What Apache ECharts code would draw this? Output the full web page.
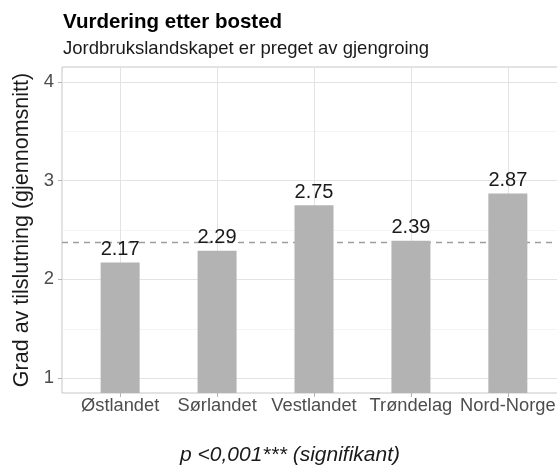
<!DOCTYPE html>
<html>
<head>
<meta charset="utf-8">
<script src="https://cdn.jsdelivr.net/npm/echarts@6/dist/echarts.min.js"></script>
<style>html,body{margin:0;padding:0;background:#fff}#c{width:557px;height:472px}</style>
</head>
<body>
<div id="c"></div>
<script>
const categories = ['Østlandet', 'Sørlandet', 'Vestlandet', 'Trøndelag', 'Nord-Norge'];
const values = [2.17, 2.29, 2.75, 2.39, 2.87];
const meanValue = 2.38;
const yTicks = [1, 2, 3, 4];
const yMinor = [1.5, 2.5, 3.5];
const titleText = 'Vurdering etter bosted';
const subtitleText = 'Jordbrukslandskapet er preget av gjengroing';
const yAxisTitle = 'Grad av tilslutning (gjennomsnitt)';
const captionText = 'p <0,001*** (signifikant)';

const FONT = '"Liberation Sans", Arial, sans-serif';
const xPos = categories.map((c, i) => i + 1);

const gridLines = [];
yTicks.forEach(v => gridLines.push({yAxis: v, lineStyle: {color: '#e3e3e3', width: 1, type: 'solid'}}));
yMinor.forEach(v => gridLines.push({yAxis: v, lineStyle: {color: '#f1f1f1', width: 0.8, type: 'solid'}}));
xPos.forEach(v => gridLines.push({xAxis: v, lineStyle: {color: '#e3e3e3', width: 1, type: 'solid'}}));
gridLines.push({yAxis: meanValue, lineStyle: {color: '#9e9e9e', width: 1.4, type: [6, 5]}});

const chart = echarts.init(document.getElementById('c'), null, {renderer: 'canvas'});
chart.setOption({
  animation: false,
  backgroundColor: '#ffffff',
  grid: {left: 62, top: 67, width: 504, height: 326, show: true, borderColor: '#c6c6c6', borderWidth: 1,
    backgroundColor: 'transparent', containLabel: false, outerBoundsMode: 'none'},
  xAxis: {
    type: 'value', min: 0.4, max: 5.6,
    axisLine: {show: false},
    splitLine: {show: false},
    axisTick: {show: true, customValues: xPos, length: 4, lineStyle: {color: '#b3b3b3'}},
    axisLabel: {customValues: xPos, formatter: v => categories[Math.round(v) - 1] || '', margin: 4,
      fontFamily: FONT, fontSize: 18.3, color: '#4d4d4d'}
  },
  yAxis: {
    type: 'value', min: 0.85, max: 4.15,
    axisLine: {show: false},
    splitLine: {show: false},
    axisTick: {show: true, customValues: yTicks, length: 4, lineStyle: {color: '#b3b3b3'}},
    axisLabel: {customValues: yTicks, margin: 8, fontFamily: FONT, fontSize: 18.5, color: '#4d4d4d'},
    name: yAxisTitle, nameLocation: 'middle', nameGap: 28,
    nameTextStyle: {fontFamily: FONT, fontSize: 21.5, color: '#1a1a1a'}
  },
  series: [
    {
      type: 'line', data: [], z: 1, silent: true,
      markLine: {silent: true, z: 1, symbol: 'none', label: {show: false}, animation: false, data: gridLines}
    },
    {
      type: 'bar', z: 3, barWidth: 39,
      data: xPos.map((x, i) => [x, values[i]]),
      itemStyle: {color: '#b3b3b3'},
      label: {show: true, position: 'top', distance: 3, fontFamily: FONT, fontSize: 20, color: '#1a1a1a',
        formatter: p => p.value[1].toFixed(2)}
    }
  ],
  graphic: [
    {type: 'text', x: 63, y: 22, style: {text: titleText, font: 'bold 20.5px ' + FONT, fill: '#000', align: 'left', verticalAlign: 'middle'}},
    {type: 'text', x: 63, y: 49, style: {text: subtitleText, font: '18.5px ' + FONT, fill: '#1a1a1a', align: 'left', verticalAlign: 'middle'}},
    {type: 'text', x: 290, y: 455, style: {text: captionText, font: 'italic 21px ' + FONT, fill: '#1a1a1a', align: 'center', verticalAlign: 'middle'}}
  ]
});
</script>
</body>
</html>
